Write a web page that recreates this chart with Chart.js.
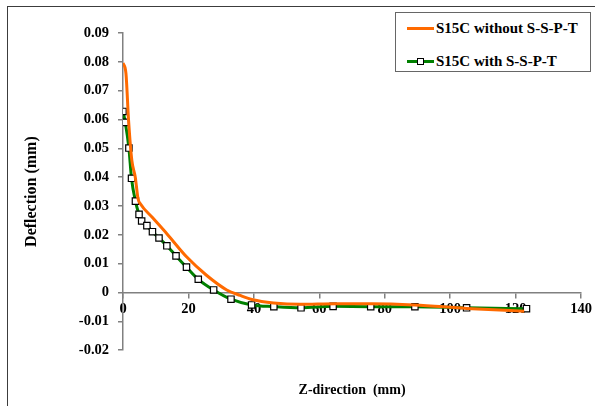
<!DOCTYPE html>
<html>
<head>
<meta charset="utf-8">
<script src="https://cdn.jsdelivr.net/npm/chart.js@4.4.1/dist/chart.umd.min.js"></script>
<style>
  body { margin: 0; background: #fff; }
  #wrap { position: relative; width: 595px; height: 406px; overflow: hidden; }
  #frame { position: absolute; left: 7px; top: 6px; right: -2px; bottom: -2px;
           border-top: 1px solid #3c3c3c; border-left: 1px solid #3c3c3c; }
  #myChart { position: absolute; left: 0; top: 0; }
  #legend { position: absolute; left: 395px; top: 12px; width: 194px; height: 58px;
            border: 1px solid #666; background: #fff;
            font: bold 15px "Liberation Serif", serif; color: #000; }
  .item { position: absolute; left: 11px; height: 16px; line-height: 16px; white-space: nowrap; }
  .swatch { position: absolute; left: 0; top: 7px; width: 27px; height: 3px; }
  .box { position: absolute; left: 10px; top: -2px; width: 5px; height: 5px;
         background: #fff; border: 1px solid #000; }
  .txt { position: absolute; left: 29px; top: 0; }
</style>
</head>
<body>
<div id="wrap">
  <div id="frame"></div>
  <canvas id="myChart" width="595" height="406"></canvas>
  <div id="legend"></div>
</div>
<script>
// deflection along Z, without the S-S-P-T
var zWithout = [0, 0.9, 1.7, 2.7, 3.75, 4.6, 5.3, 9, 13.4, 19.5, 25.6, 31.7, 35.8, 39.7, 46, 54, 65, 76, 89, 105, 122.6];
var defWithout = [0.0796, 0.076, 0.0597, 0.0458, 0.040, 0.0325, 0.0308, 0.026, 0.0204, 0.0123, 0.0059, 0.0009, -0.001, -0.0025, -0.0036, -0.0041, -0.0039, -0.0039, -0.0043, -0.0055, -0.0065];

// deflection along Z, with the S-S-P-T
var zWith = [0, 0.7, 1.8, 2.6, 3.8, 4.9, 5.7, 7.3, 9.0, 11.0, 13.4, 16.2, 19.4, 23.0, 27.7, 33.0, 39.3, 46.1, 54.4, 64.2, 75.7, 89.2, 105, 123.3];
var defWith = [0.0628, 0.059, 0.0501, 0.0396, 0.0317, 0.0271, 0.0248, 0.0232, 0.0211, 0.0189, 0.0162, 0.0127, 0.0088, 0.0046, 0.0009, -0.0023, -0.0043, -0.0049, -0.0053, -0.0048, -0.0049, -0.0049, -0.0053, -0.0056];

var seriesNames = ['S15C without S-S-P-T', 'S15C with S-S-P-T'];

function toPoints(xs, ys) {
  var pts = [];
  for (var i = 0; i < xs.length; i++) pts.push({ x: xs[i], y: ys[i] });
  return pts;
}

var serif = '"Liberation Serif", "Times New Roman", serif';
var tickFont = { family: serif, size: 14.5, weight: 'bold' };

var ctx = document.getElementById('myChart').getContext('2d');
var myChart = new Chart(ctx, {
  type: 'line',
  data: {
    datasets: [{
      label: seriesNames[0],
      data: toPoints(zWithout, defWithout),
      borderColor: '#ff6a00',
      borderWidth: 3,
      pointRadius: 0,
      cubicInterpolationMode: 'monotone',
      fill: false
    }, {
      label: seriesNames[1],
      data: toPoints(zWith, defWith),
      borderColor: '#008000',
      borderWidth: 3,
      pointStyle: 'rect',
      pointRadius: 4.5,
      pointBorderWidth: 1.2,
      pointBorderColor: '#000',
      pointBackgroundColor: '#fff',
      cubicInterpolationMode: 'monotone',
      fill: false
    }]
  },
  options: {
    responsive: false,
    animation: false,
    devicePixelRatio: 1,
    layout: { padding: { left: 18, right: 13, top: 33, bottom: 0 } },
    plugins: {
      legend: { display: false },
      tooltip: { enabled: false },
      title: {
        display: true,
        position: 'bottom',
        fullSize: false,
        text: 'Z-direction  (mm)',
        color: '#000',
        font: { family: serif, size: 14, weight: 'bold' },
        padding: { top: 32, bottom: 7 }
      }
    },
    scales: {
      x: {
        type: 'linear',
        position: { y: 0 },
        min: 0,
        max: 140,
        grid: { drawOnChartArea: false, tickLength: 5, color: '#808080', lineWidth: 1.5 },
        border: { color: '#808080', width: 1.5 },
        ticks: { stepSize: 20, autoSkip: false, maxRotation: 0, color: '#000', font: tickFont, padding: 3 }
      },
      y: {
        min: -0.02,
        max: 0.09,
        afterFit: function (scale) { scale.width = 105; },
        grid: { drawOnChartArea: false, tickLength: 5, color: '#808080', lineWidth: 1.5 },
        border: { color: '#808080', width: 1.5 },
        title: {
          display: true,
          text: 'Deflection (mm)',
          color: '#000',
          font: { family: serif, size: 16, weight: 'bold' },
          padding: { top: 4, bottom: 0 }
        },
        ticks: {
          stepSize: 0.01,
          color: '#000',
          font: tickFont,
          padding: 9,
          callback: function (v) { return Math.abs(v) < 1e-9 ? '0' : v.toFixed(2); }
        }
      }
    }
  }
});

// legend box built from the chart's own legend items
var items = myChart.options.plugins.legend.labels.generateLabels(myChart);
var legend = document.getElementById('legend');
items.forEach(function (it, i) {
  var ds = myChart.data.datasets[it.datasetIndex];
  var row = document.createElement('div');
  row.className = 'item';
  row.style.top = (i === 0 ? 7 : 40) + 'px';
  var sw = document.createElement('div');
  sw.className = 'swatch';
  sw.style.background = ds.borderColor;
  if (ds.pointRadius > 0) {
    var b = document.createElement('div');
    b.className = 'box';
    sw.appendChild(b);
  }
  var t = document.createElement('span');
  t.className = 'txt';
  t.textContent = it.text;
  row.appendChild(sw);
  row.appendChild(t);
  legend.appendChild(row);
});
</script>
</body>
</html>
